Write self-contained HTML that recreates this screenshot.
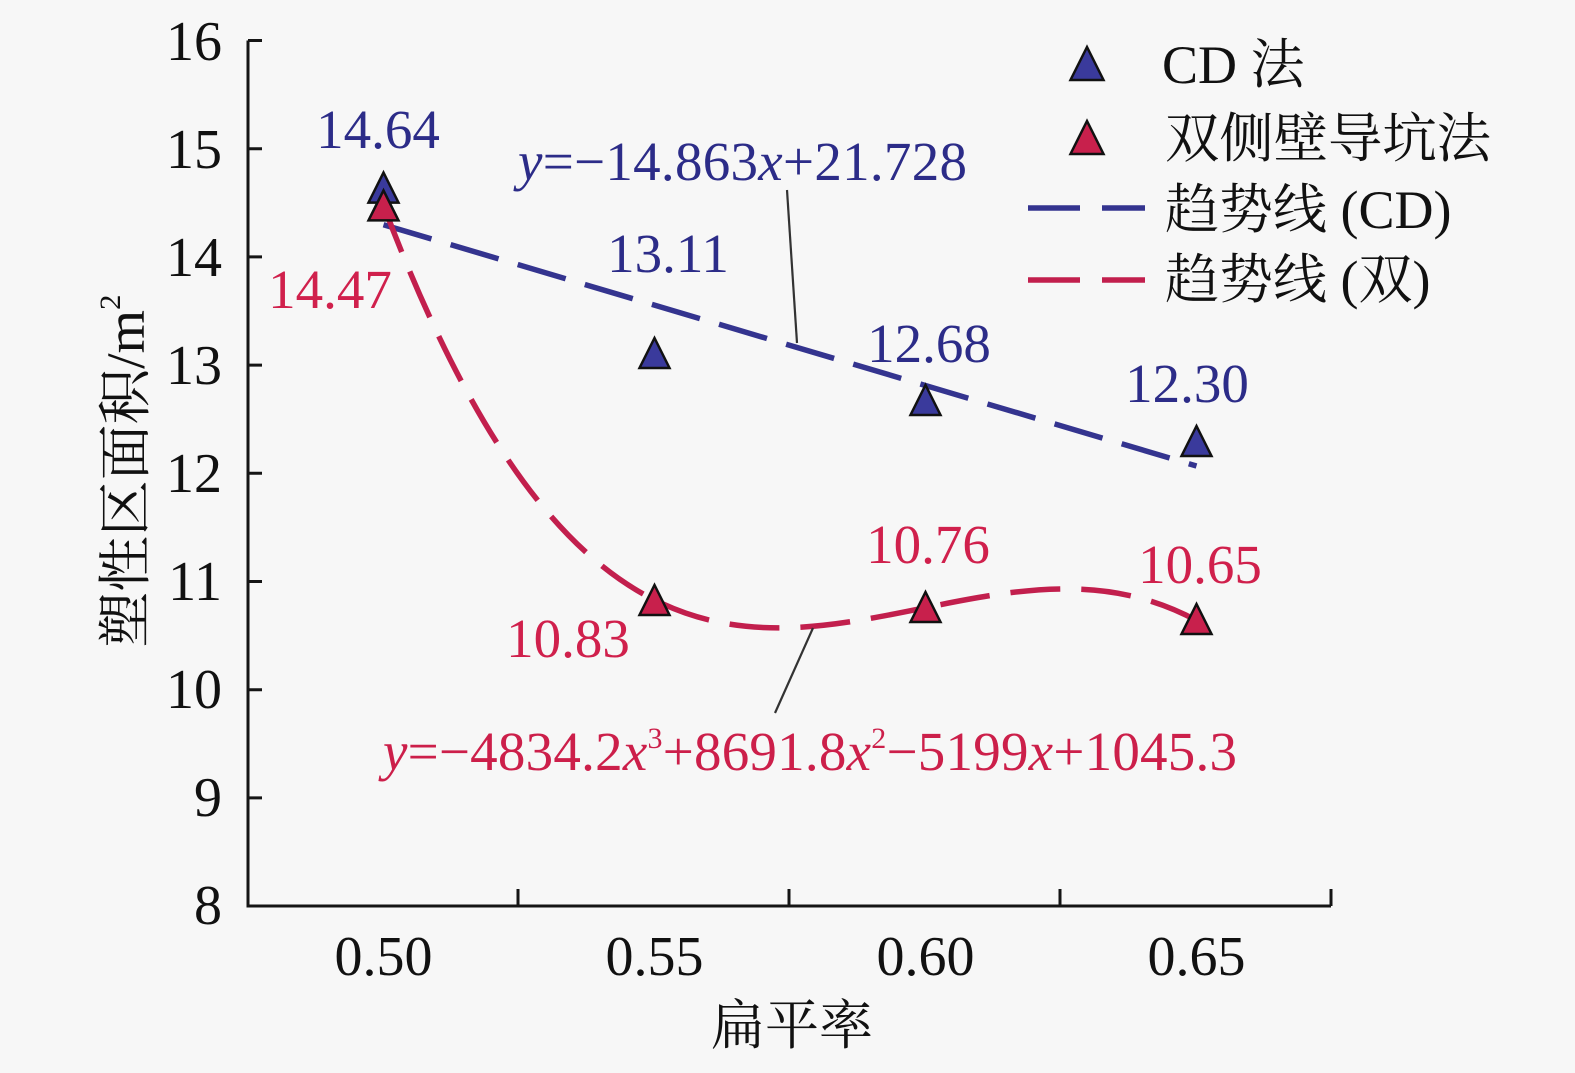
<!DOCTYPE html>
<html><head><meta charset="utf-8"><style>
html,body{margin:0;padding:0;background:#f7f7f7;}
svg{display:block;}
text{font-family:"Liberation Serif","Noto Serif CJK SC",serif;}
</style></head><body>
<svg width="1575" height="1073" viewBox="0 0 1575 1073" xmlns="http://www.w3.org/2000/svg">
<rect width="1575" height="1073" fill="#f7f7f7"/>
<!-- axes -->
<g stroke="#151515" stroke-width="3" fill="none">
<path d="M248,40.5 V906 H1331"/>
<path d="M248,40.5 h14 M248,148.7 h14 M248,256.9 h14 M248,365.1 h14 M248,473.3 h14 M248,581.5 h14 M248,689.7 h14 M248,797.9 h14"/>
<path d="M518,906 v-17 M789,906 v-17 M1060,906 v-17 M1331,906 v-17"/>
</g>
<!-- y tick labels -->
<g font-size="56" fill="#111" text-anchor="end">
<text x="222" y="60">16</text>
<text x="222" y="168">15</text>
<text x="222" y="276">14</text>
<text x="222" y="384">13</text>
<text x="222" y="492">12</text>
<text x="222" y="600">11</text>
<text x="222" y="708">10</text>
<text x="222" y="816">9</text>
<text x="222" y="924">8</text>
</g>
<!-- x tick labels -->
<g font-size="56" fill="#111" text-anchor="middle">
<text x="383.5" y="975">0.50</text>
<text x="654.5" y="975">0.55</text>
<text x="925.5" y="975">0.60</text>
<text x="1196.5" y="975">0.65</text>
</g>
<text x="792" y="1044" font-size="54" fill="#111" text-anchor="middle">扁平率</text>
<text transform="translate(144,471) rotate(-90)" font-size="54" fill="#111" text-anchor="middle" textLength="353" lengthAdjust="spacingAndGlyphs">塑性区面积/m<tspan font-size="30" dy="-24">2</tspan></text>

<!-- trend lines -->
<path d="M383.5,224.7 L1196.5,466" stroke="#34348f" stroke-width="5.5" fill="none" stroke-dasharray="50 20"/>
<path d="M383.5,205.4 C654.5,924.1 925.5,474.4 1196.5,620.5" stroke="#c21f4d" stroke-width="5.5" fill="none" stroke-dasharray="50 21"/>

<!-- leaders -->
<path d="M787,190 L797,343" stroke="#333" stroke-width="2.2"/>
<path d="M813,628 L775,713" stroke="#333" stroke-width="2.2"/>

<!-- markers -->
<g stroke="#111" stroke-width="2.5" stroke-linejoin="miter">
<polygon points="383.5,172.6 368.5,202.6 398.5,202.6" fill="#3a3a9c"/>
<polygon points="383.5,190.4 368.5,220.4 398.5,220.4" fill="#c8204c"/>
<polygon points="654.5,338 639.5,368 669.5,368" fill="#3a3a9c"/>
<polygon points="925.5,385 910.5,415 940.5,415" fill="#3a3a9c"/>
<polygon points="1196.5,426 1181.5,456 1211.5,456" fill="#3a3a9c"/>
<polygon points="654.5,585 639.5,615 669.5,615" fill="#c8204c"/>
<polygon points="925.5,592 910.5,622 940.5,622" fill="#c8204c"/>
<polygon points="1196.5,604 1181.5,634 1211.5,634" fill="#c8204c"/>
</g>

<!-- data labels -->
<g font-size="55" text-anchor="middle">
<text x="378" y="148" fill="#2c2c88">14.64</text>
<text x="330" y="308" fill="#d0204c">14.47</text>
<text x="668" y="272" fill="#2c2c88">13.11</text>
<text x="929" y="362" fill="#2c2c88">12.68</text>
<text x="1187" y="402" fill="#2c2c88">12.30</text>
<text x="568" y="657" fill="#d0204c">10.83</text>
<text x="928" y="563" fill="#d0204c">10.76</text>
<text x="1200" y="583" fill="#d0204c">10.65</text>
</g>

<!-- equations -->
<text x="518" y="180" font-size="55" fill="#2c2c88" textLength="449" lengthAdjust="spacing"><tspan font-style="italic">y</tspan>=−14.863<tspan font-style="italic">x</tspan>+21.728</text>
<text x="383" y="770" font-size="55" fill="#cc1f4a" textLength="854" lengthAdjust="spacing"><tspan font-style="italic">y</tspan>=−4834.2<tspan font-style="italic">x</tspan><tspan font-size="30" dy="-22">3</tspan><tspan dy="22">+8691.8</tspan><tspan font-style="italic">x</tspan><tspan font-size="30" dy="-22">2</tspan><tspan dy="22">−5199</tspan><tspan font-style="italic">x</tspan>+1045.3</text>

<!-- legend -->
<g stroke="#111" stroke-width="2.5">
<polygon points="1087,47 1070.5,80 1103.5,80" fill="#3a3a9c"/>
<polygon points="1087,121 1070.5,154 1103.5,154" fill="#c8204c"/>
</g>
<path d="M1028,208 H1080 M1102,208 H1145" stroke="#34348f" stroke-width="5.5"/>
<path d="M1028,280 H1080 M1102,280 H1145" stroke="#c21f4d" stroke-width="5.5"/>
<g font-size="54" fill="#111">
<text x="1162" y="83">CD 法</text>
<text x="1165" y="157" textLength="326" lengthAdjust="spacingAndGlyphs">双侧壁导坑法</text>
<text x="1165" y="228">趋势线 (CD)</text>
<text x="1165" y="298">趋势线 (双)</text>
</g>
</svg>
</body></html>
